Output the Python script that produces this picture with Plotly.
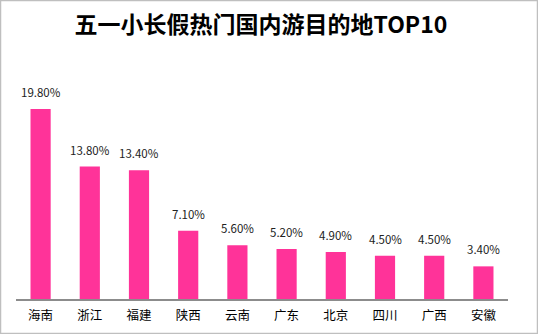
import plotly.graph_objects as go

# 五一小长假热门国内游目的地 (share of bookings, %)
destinations = ["海南", "浙江", "福建", "陕西", "云南", "广东", "北京", "四川", "广西", "安徽"]
shares = [19.8, 13.8, 13.4, 7.1, 5.6, 5.2, 4.9, 4.5, 4.5, 3.4]
share_labels = [f"{v:.2f}%" for v in shares]

W, H = 538, 334
ml, mr, mt, mb = 16, 30, 70, 35
pw, ph = W - ml - mr, H - mt - mb

fig = go.Figure()
fig.add_trace(go.Bar(
    x=destinations, y=shares,
    marker=dict(color="#FF3399", line=dict(width=0)),
    hoverinfo="skip",
))

for cat, val, lab in zip(destinations, shares, share_labels):
    fig.add_annotation(
        x=cat, y=val, text=lab, showarrow=False,
        yanchor="bottom", yshift=7,
        font=dict(family="Noto Sans CJK SC", size=11.5, color="#222222"),
    )

# outer frame around the whole chart
fig.add_shape(
    type="rect", xref="paper", yref="paper",
    x0=(0.5 - ml) / pw, x1=(W - 0.5 - ml) / pw,
    y0=(0.5 - mb) / ph, y1=(H - 0.5 - mb) / ph,
    line=dict(color="#BFBFBF", width=1.5),
)

fig.update_layout(
    width=W, height=H,
    margin=dict(l=ml, r=mr, t=mt, b=mb, autoexpand=False),
    paper_bgcolor="white", plot_bgcolor="white",
    bargap=0.59,
    showlegend=False,
    title=dict(
        text="<b>五一小长假热门国内游目的地TOP10</b>",
        x=0.485, xanchor="center", y=0.925, yanchor="middle",
        font=dict(family="Noto Sans CJK SC", size=23, color="#000000"),
    ),
    xaxis=dict(
        showline=True, linecolor="#8C8C8C", linewidth=1.5,
        ticks="", showgrid=False, ticklabelstandoff=4, automargin=False,
        tickfont=dict(family="Noto Sans CJK SC", size=12.5, color="#000000"),
    ),
    yaxis=dict(
        range=[0, ph / 9.6], visible=False, showgrid=False, automargin=False,
    ),
)

fig.write_html("out.html")
